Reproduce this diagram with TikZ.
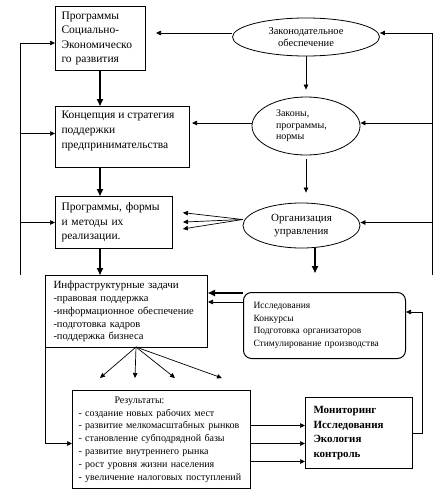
\documentclass[tikz,border=0pt]{standalone}
\usepackage{fontspec}
\setmainfont{Liberation Serif}
\usetikzlibrary{arrows.meta, calc, shapes.geometric}

\begin{document}
\begin{tikzpicture}[x=1pt, y=-1pt,
  blok/.style={draw, line width=1pt, rectangle, anchor=north west,
               inner xsep=6pt, inner ysep=0pt, align=left},
  rblok/.style={blok, rounded corners=8pt},
  oval/.style={draw, ellipse, line width=0.8pt, inner sep=0pt, align=center},
  arr/.style={-{Triangle[length=5pt,width=4.5pt]}, line width=0.7pt},
  thickarr/.style={-{Triangle[length=7pt,width=6pt]}, line width=1.6pt}]

\useasboundingbox (0,0) rectangle (446,498);

\node[blok, minimum width=90pt, minimum height=64pt, text width=78pt,
      font=\fontsize{11.5}{14.5}\selectfont] (b1) at (55,6)
  {Программы\\Социально-\\Экономическо\\го развития};
\node[blok, minimum width=134pt, minimum height=61pt,
      font=\fontsize{11.5}{15}\selectfont] (b2) at (55,106)
  {\parbox[c][53pt][t]{122pt}{Концепция и стратегия\\поддержки\\предпринимательства}};
\node[blok, minimum width=117pt, minimum height=52pt, text width=105pt,
      font=\fontsize{11.5}{14.5}\selectfont] (b3) at (55,196)
  {Программы, формы\\и методы их\\реализации.};

\node[oval, minimum width=147pt, minimum height=38pt,
      font=\fontsize{10.5}{12.5}\selectfont] (e1) at (306,37)
  {Законодательное\\обеспечение};
\node[oval, minimum width=108pt, minimum height=58pt, align=left, text width=60pt,
      font=\fontsize{10}{11.5}\selectfont] (e2) at (306,126)
  {Законы,\\программы,\\нормы};
\node[oval, minimum width=117pt, minimum height=45pt,
      font=\fontsize{11}{13}\selectfont] (e3) at (301.5,225.5)
  {Организация\\управления};

\node[blok, minimum width=162pt, minimum height=72pt, text width=146pt,
      inner xsep=8pt, font=\fontsize{10.5}{12.8}\selectfont] (b4) at (45,275)
  {{\fontsize{11}{13}\selectfont Инфраструктурные задачи}\\-правовая поддержка\\
   -информационное обеспечение\\-подготовка кадров\\-поддержка бизнеса};
\node[rblok, minimum width=162pt, minimum height=66pt, text width=142pt,
      inner xsep=10pt, font=\fontsize{9.5}{12.5}\selectfont] (b5) at (243,292)
  {Исследования\\Конкурсы\\Подготовка организаторов\\Стимулирование производства};
\node[blok, minimum width=178pt, minimum height=98pt, text width=166pt,
      font=\fontsize{10}{12.8}\selectfont] (b6) at (72,390)
  {\hspace*{36pt}Результаты:\\- создание новых рабочих мест\\
   - развитие мелкомасштабных рынков\\- становление субподрядной базы\\
   - развитие внутреннего рынка\\- рост уровня жизни населения\\
   - увеличение налоговых поступлений};
\node[blok, minimum width=107pt, minimum height=71pt, text width=91pt,
      inner xsep=8pt, font=\fontsize{11}{14.5}\selectfont\bfseries] (b7) at (305,397)
  {Мониторинг\\Исследования\\Экология\\контроль};

\coordinate (ax) at (100,0);
\coordinate (lt) at (20,43);  \coordinate (lb) at (20,275);
\coordinate (rt) at (432,33); \coordinate (rb) at (432,275);
\coordinate (e3d) at (315,273);
\coordinate (rr) at (422,312);
\coordinate (fo) at (136,347);
\foreach \x [count=\i] in {100,135,175,222} \coordinate (f\i) at (\x,378);

\draw[thickarr] (b1.south -| ax) -- (b2.north -| ax);
\draw[thickarr] (b2.south -| ax) -- (b3.north -| ax);
\draw[thickarr] (b3.south -| ax) -- (b4.north -| ax);
\draw[thickarr] (e3d |- e3.south) -- (e3d);

\draw[line width=0.7pt] (lt) -- (lb);
\draw[arr] (lt) -- (lt -| b1.west);
\draw[arr] ([yshift=3.5pt]b2.west -| lt) -- ([yshift=3.5pt]b2.west);
\draw[arr] (b3.west -| lt) -- (b3.west);

\draw[line width=0.7pt] (rt) -- (rb);
\draw[arr] (rt) -- (rt -| e1.east);
\draw[arr] ([yshift=3pt]e2.east -| rt) -- ([yshift=3pt]e2.east);
\draw[arr] ([yshift=3pt]e3.east -| rt) -- ([yshift=3pt]e3.east);

\draw[arr, shorten >=10pt] ([yshift=4pt]e1.west) -- ([yshift=4pt]e1.west -| b1.east);
\draw[arr, shorten >=2pt] ([yshift=3pt]e2.west) -- ([yshift=3pt]e2.west -| b2.east);
\draw[arr, shorten >=7pt] (e1.south) -- (e2.north);
\draw[arr, shorten <=4pt, shorten >=10pt] (e2.south) -- (e2.south |- e3.north);
\foreach \d in {11,0,-8}
  \draw[arr, shorten >=10pt] ([yshift=6pt]e3.west) -- ([yshift=\d pt]b3.east);

\draw[thickarr] ([yshift=-1pt]b5.north west) -- ([yshift=-1pt]b5.north west -| b4.east);
\draw[arr] ([yshift=-10pt]b5.north west) -- ([yshift=-10pt]b5.north west -| b4.east);

\foreach \i in {1,...,4} \draw[arr] (fo) -- (f\i);
\draw[arr] (b4.south west) |- ([yshift=-4pt]b6.west);
\foreach \d in {14,-4,-22}
  \draw[arr] ([yshift=\d pt]b6.east) -- ([yshift=\d pt]b6.east -| b7.west);
\draw[arr] (b7.east) -| (rr) -- (rr -| b5.east);

\end{tikzpicture}
\end{document}
